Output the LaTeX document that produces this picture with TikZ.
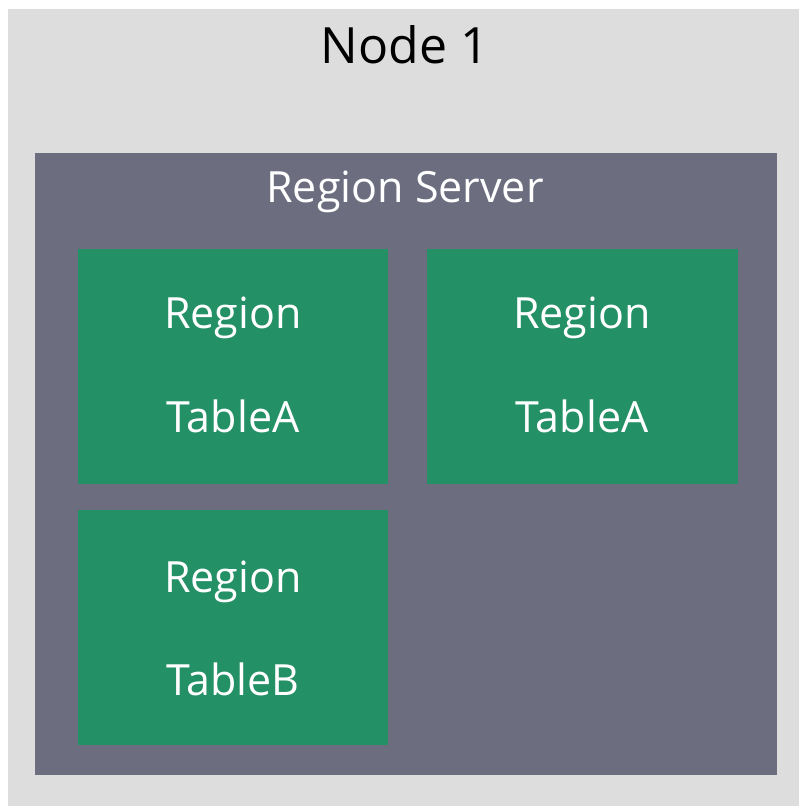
\documentclass[tikz,border=0pt]{standalone}
\usepackage{fontspec}
\setmainfont{Open Sans}
\definecolor{outerbg}{HTML}{DDDDDD}
\definecolor{serverbg}{HTML}{6C6E80}
\definecolor{regionbg}{HTML}{249066}
\begin{document}
\begin{tikzpicture}[x=1pt,y=-1pt,
  box/.style={draw=none,inner sep=0pt,outer sep=0pt},
  bigtxt/.style={anchor=base,inner sep=0pt,font=\fontsize{50}{60}\selectfont},
  midtxt/.style={anchor=base,inner sep=0pt,text=white,font=\fontsize{43}{52}\selectfont}]
\useasboundingbox (0,0) rectangle (799,806);
\fill[outerbg] (8,9) rectangle (799,806);
\fill[serverbg] (35,153) rectangle (777,775);
\fill[regionbg] (78,249) rectangle (388,484);
\fill[regionbg] (427,249) rectangle (738,484);
\fill[regionbg] (78,510) rectangle (388,745);
\node[bigtxt] (node) at (405,63) {Node 1};
\node[midtxt] (rs) at (405,202) {Region Server};
\node[midtxt] (r1a) at (233,328) {Region};
\node[midtxt] (r1b) at (233,432) {TableA};
\node[midtxt] (r2a) at (582,328) {Region};
\node[midtxt] (r2b) at (582,432) {TableA};
\node[midtxt] (r3a) at (233,592) {Region};
\node[midtxt] (r3b) at (233,695) {TableB};
\end{tikzpicture}
\end{document}
